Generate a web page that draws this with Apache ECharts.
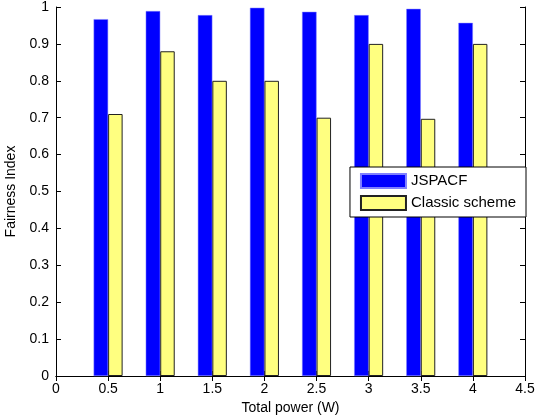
<!DOCTYPE html>
<html>
<head>
<meta charset="utf-8">
<script src="https://cdn.jsdelivr.net/npm/echarts@6/dist/echarts.min.js"></script>
<style>
  html, body { margin: 0; padding: 0; background: #fff; }
  #chart { width: 536px; height: 418px; }
</style>
</head>
<body>
<div id="chart"></div>
<script>
// x positions (total power, W) – tick labels run 0..4.5
const xTicks = ['0', '0.5', '1', '1.5', '2', '2.5', '3', '3.5', '4', '4.5'];
// values per tick (null where there is no bar)
const jspacf = [null, 0.967, 0.989, 0.978, 0.998, 0.987, 0.978, 0.995, 0.957, null];
const classic = [null, 0.71, 0.88, 0.80, 0.80, 0.70, 0.90, 0.697, 0.90, null];

const font = 'Liberation Sans, Arial, Helvetica, sans-serif';
const chart = echarts.init(document.getElementById('chart'));

const axisLine = { show: true, lineStyle: { color: '#000', width: 1 } };
const tick = { show: true, inside: true, length: 5, lineStyle: { color: '#000' } };

chart.setOption({
    animation: false,
    textStyle: { fontFamily: font },
    grid: { left: 56, right: 11, top: 7, bottom: 42, containLabel: false, outerBoundsMode: 'none' },
    legend: {
        right: 10,
        top: 167,
        orient: 'vertical',
        icon: 'rect',
        itemWidth: 45,
        itemHeight: 14,
        itemGap: 6,
        padding: [6, 10, 6, 10],
        borderColor: '#000',
        borderWidth: 1,
        backgroundColor: '#fff',
        textStyle: { fontSize: 15, color: '#000', fontFamily: font },
        data: ['JSPACF', 'Classic scheme']
    },
    xAxis: [{
        type: 'category',
        data: xTicks,
        boundaryGap: false,
        axisLine: axisLine,
        axisTick: Object.assign({ alignWithLabel: true }, tick),
        axisLabel: { color: '#000', fontSize: 14, margin: 6, fontFamily: font },
        name: 'Total power (W)',
        nameLocation: 'middle',
        nameGap: 24,
        nameTextStyle: { fontSize: 14, color: '#000', fontFamily: font },
        splitLine: { show: false }
    }, {
        type: 'category',
        data: xTicks,
        boundaryGap: false,
        position: 'top',
        axisLine: axisLine,
        axisTick: tick,
        axisLabel: { show: false },
        splitLine: { show: false }
    }],
    yAxis: [{
        type: 'value',
        min: 0,
        max: 1,
        interval: 0.1,
        axisLine: axisLine,
        axisTick: tick,
        axisLabel: { color: '#000', fontSize: 14, margin: 7, fontFamily: font },
        name: 'Fairness Index',
        nameLocation: 'middle',
        nameGap: 35,
        nameTextStyle: { fontSize: 14, color: '#000', fontFamily: font },
        splitLine: { show: false }
    }, {
        type: 'value',
        min: 0,
        max: 1,
        interval: 0.1,
        position: 'right',
        axisLine: axisLine,
        axisTick: tick,
        axisLabel: { show: false },
        splitLine: { show: false }
    }],
    series: [{
        name: 'JSPACF',
        type: 'bar',
        data: jspacf,
        barWidth: 14.5,
        barGap: '0%',
        itemStyle: { color: '#0000ff', borderColor: '#8080ff', borderWidth: 0.5 }
    }, {
        name: 'Classic scheme',
        type: 'bar',
        data: classic,
        barWidth: 14.5,
        barGap: '0%',
        itemStyle: { color: '#ffff80', borderColor: '#222', borderWidth: 1 }
    }]
});
</script>
</body>
</html>
